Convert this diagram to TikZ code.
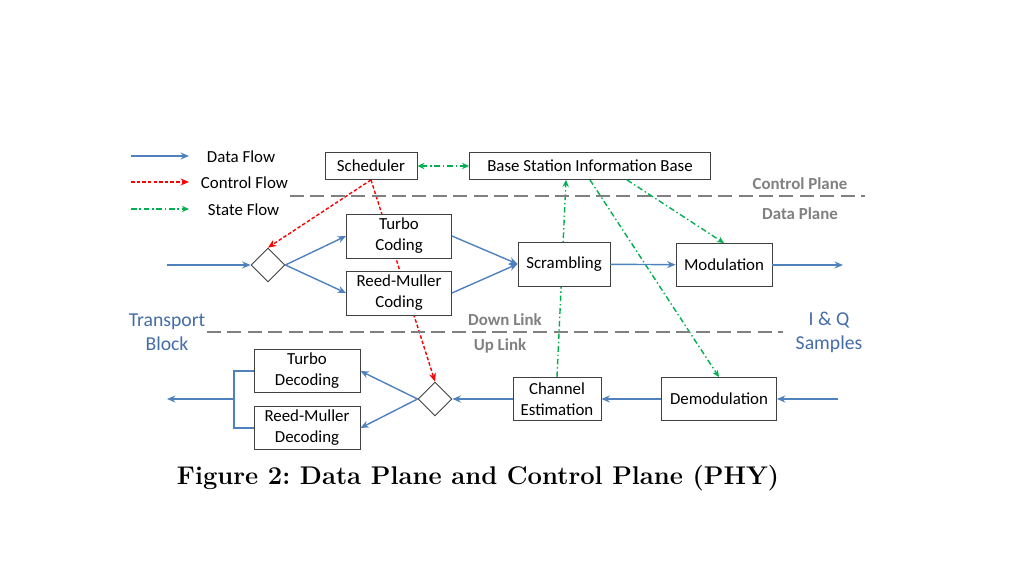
\documentclass[tikz,border=0pt]{standalone}
\usepackage{fontspec}
\newfontfamily\calibri{Carlito}
\usetikzlibrary{arrows.meta,shapes.geometric,backgrounds,calc}
\definecolor{flowblue}{RGB}{79,129,189}
\definecolor{flowred}{RGB}{255,0,0}
\definecolor{flowgreen}{RGB}{0,176,80}
\definecolor{planegray}{RGB}{128,128,128}
\definecolor{labelblue}{RGB}{68,108,166}
\tikzset{
  block/.style={draw=black!75,fill=white,line width=0.6pt,align=center,inner sep=1pt,font=\calibri\fontsize{12}{15}\selectfont},
  switch/.style={draw=black!75,fill=white,diamond,minimum width=0.85cm,minimum height=0.85cm,inner sep=0pt,line width=0.6pt},
  data/.style={flowblue,line width=1pt,-{Stealth[length=6pt,width=5pt]}},
  control/.style={flowred,line width=1pt,dash pattern=on 2.5pt off 1.5pt,-{Stealth[length=6pt,width=5pt]}},
  state/.style={flowgreen,line width=1pt,dash pattern=on 4pt off 2pt on 1pt off 2pt,-{Stealth[length=5pt,width=4.5pt]}},
  planeline/.style={planegray,line width=2pt,dash pattern=on 10pt off 4.5pt},
  planelabel/.style={planegray,font=\calibri\bfseries\fontsize{12}{15}\selectfont},
  legendlabel/.style={anchor=west,font=\calibri\fontsize{12}{15}\selectfont},
  endlabel/.style={labelblue,align=center,font=\calibri\fontsize{14}{17}\selectfont}
}
\begin{document}
\begin{tikzpicture}[x=0.025cm,y=-0.025cm]
\useasboundingbox (0,0) rectangle (1024,576);

% legend
\coordinate (ld0) at (131,156); \coordinate (ld1) at (189,156);
\coordinate (lc0) at (131,182); \coordinate (lc1) at (189,182);
\coordinate (ls0) at (131,209); \coordinate (ls1) at (189,209);
\draw[data] (ld0) -- (ld1);
\draw[control] (lc0) -- (lc1);
\draw[state] (ls0) -- (ls1);
\node[legendlabel] (ldata) at (202,157) {Data Flow};
\node[legendlabel] (lcontrol) at (196,183) {Control Flow};
\node[legendlabel] (lstate) at (203,210) {State Flow};

% plane borders
\coordinate (cp0) at (290,196); \coordinate (cp1) at (865,196);
\coordinate (ul0) at (207,332); \coordinate (ul1) at (783,332);
\draw[planeline] (cp0) -- (cp1);
\draw[planeline] (ul0) -- (ul1);
\node[planelabel] (cplane) at (800,184) {Control Plane};
\node[planelabel] (dplane) at (800,214) {Data Plane};
\node[planelabel] (dlink) at (505,320) {Down Link};
\node[planelabel] (ulink) at (500,346) {Up Link};
\node[endlabel] (tblock) at (167,332) {Transport\\Block};
\node[endlabel] (iqs) at (829,332) {I \& Q\\Samples};

% blocks
\node[block,minimum width=2.3cm,minimum height=0.675cm] (sched) at (371,166) {Scheduler};
\node[block,minimum width=6.025cm,minimum height=0.675cm] (bsib) at (590,166) {Base Station Information Base};
\node[switch] (split) at (268,265) {};
\node[block,minimum width=2.625cm,minimum height=1.1cm] (turbo) at (399,236) {Turbo\\Coding};
\node[block,minimum width=2.625cm,minimum height=1.1cm] (rm) at (399,293) {Reed-Muller\\Coding};
\node[block,minimum width=2.3cm,minimum height=1.1cm] (scram) at (564,264) {Scrambling};
\node[block,minimum width=2.4cm,minimum height=1.075cm] (mod) at (724,265) {Modulation};
\node[block,minimum width=2.65cm,minimum height=1.075cm] (tdec) at (307,371) {Turbo\\Decoding};
\node[block,minimum width=2.65cm,minimum height=1.075cm] (rmdec) at (307,428) {Reed-Muller\\Decoding};
\node[switch] (sel) at (435,399) {};
\node[block,minimum width=2.2cm,minimum height=1.075cm] (chest) at (557,399) {Channel\\Estimation};
\node[block,minimum width=2.875cm,minimum height=1.075cm] (demod) at (719,399) {Demodulation};

% down link data
\coordinate (tbin) at (167,265);
\coordinate (iqout) at (843,265);
\draw[data] (tbin) -- (split.west);
\draw[data] (split.east) -- (turbo.west);
\draw[data] (split.east) -- (rm.west);
\draw[data] (turbo.east) -- (scram.west);
\draw[data] (rm.east) -- (scram.west);
\draw[data] (scram) -- (mod);
\draw[data] (mod.east) -- (iqout);

% up link data
\coordinate (iqin) at (838,399);
\coordinate (join) at (234,399);
\coordinate (tbout) at (167,399);
\draw[data] (iqin) -- (demod.east);
\draw[data] (demod.west) -- (chest.east);
\draw[data] (chest.west) -- (sel.east);
\draw[data] (sel.west) -- (tdec.east);
\draw[data] (sel.west) -- (rmdec.east);
\draw[flowblue,line width=1pt] (tdec.west) -| (join) |- (rmdec.west);
\draw[data] (join) -- (tbout);

% control and state
\begin{scope}[on background layer]
\draw[control] (sched.south) -- (split.north);
\draw[control] (sched.south) -- (sel.north);
\draw[state] (chest.north) -- ($(bsib.south)+(-24,0)$);
\draw[state] (bsib.south) -- (demod.north);
\end{scope}
\draw[state] ($(bsib.south)+(37,0)$) -- (mod.north);
\draw[state,{Stealth[length=5pt,width=4.5pt]}-{Stealth[length=5pt,width=4.5pt]}] (sched.east) -- (bsib.west);

\node[font=\bfseries\fontsize{18.2}{21}\selectfont] (caption) at (478,478) {Figure 2:\ Data Plane and Control Plane (PHY)};
\end{tikzpicture}
\end{document}
